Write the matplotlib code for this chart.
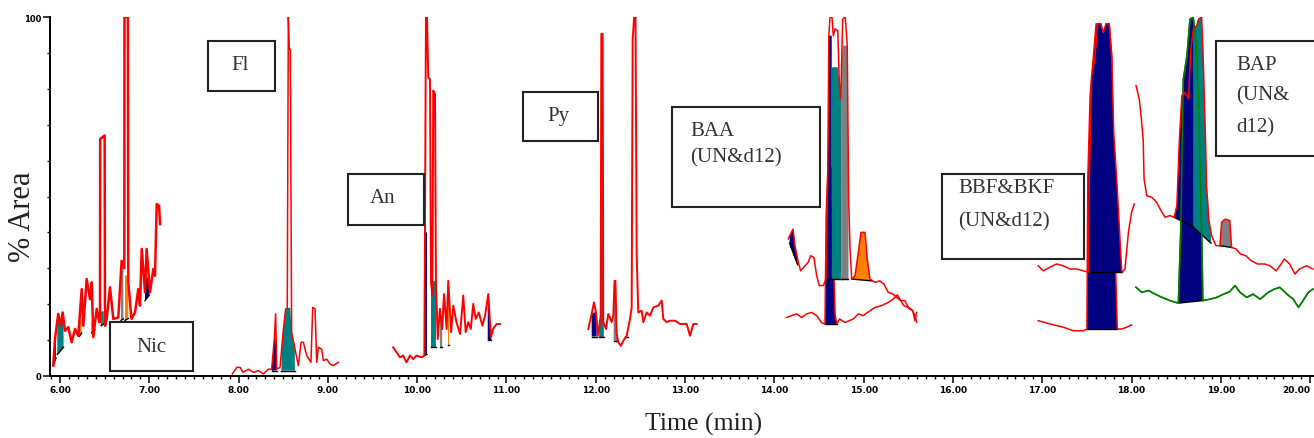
import numpy as np
import matplotlib.pyplot as plt
from matplotlib.patches import Rectangle
from matplotlib.ticker import MultipleLocator

plt.rcParams['font.family'] = 'Liberation Serif'

# =========================
# Chromatogram traces: time (min) / % area
# =========================
NIC_T = [5.925, 5.944, 5.98, 6.01, 6.03, 6.056, 6.093, 6.131, 6.168, 6.205, 6.243, 6.261, 6.299,
         6.336, 6.355, 6.373, 6.411, 6.44, 6.448, 6.45, 6.50, 6.504, 6.523, 6.56, 6.597, 6.653,
         6.69, 6.72, 6.722, 6.76, 6.765, 6.80, 6.84, 6.877, 6.896, 6.915, 6.952, 6.97, 7.008,
         7.045, 7.064, 7.083, 7.11, 7.12]
NIC_Y = [2.9, 10.3, 17.3, 14.0, 17.7, 12.6, 13.6, 9.4, 13.1, 11.2, 24.2, 14.0, 27.0,
         21.4, 26.1, 10.8, 18.7, 15.0, 15.0, 66.0, 67.0, 14.0, 15.9, 24.7, 15.9, 16.3,
         32.1, 30.0, 100, 100, 26.0, 15.9, 17.7, 24.2, 19.6, 35.4, 23.3, 35.4, 23.3,
         29.8, 27.9, 47.9, 47.4, 42.3]

FL_T = [7.93, 7.98, 8.016, 8.05, 8.11, 8.165, 8.22, 8.277, 8.333, 8.37, 8.40, 8.415, 8.427,
        8.464, 8.50, 8.527, 8.545, 8.557, 8.568, 8.579, 8.594, 8.632, 8.669, 8.70, 8.725,
        8.763, 8.81, 8.83, 8.856, 8.875, 8.893, 8.93, 8.95, 8.987, 9.024, 9.06, 9.117]
FL_Y = [0.6, 2.4, 2.4, 1.0, 1.9, 1.0, 1.5, 0.6, 1.9, 1.9, 10.3, 17.3, 1.9,
        2.4, 12.6, 18.7, 18.7, 100, 91, 91, 12.2, 7.5, 2.9, 9.4, 9.4,
        5.7, 3.8, 19.1, 18.7, 3.8, 8.0, 7.5, 4.3, 4.7, 3.3, 2.9, 3.8]

AN_T = [9.73, 9.77, 9.807, 9.844, 9.88, 9.92, 9.956, 9.994, 10.05, 10.08, 10.087, 10.098,
        10.11, 10.124, 10.143, 10.155, 10.17, 10.18, 10.2, 10.21, 10.23, 10.255, 10.28, 10.30,
        10.33, 10.348, 10.38, 10.404, 10.44, 10.48, 10.516, 10.543, 10.572, 10.60, 10.628,
        10.655, 10.69, 10.73, 10.76, 10.796, 10.826, 10.85, 10.89, 10.927]
AN_Y = [8.0, 6.6, 5.2, 5.7, 3.8, 5.7, 4.7, 5.7, 5.2, 5.7, 40.0, 100,
        100, 83.2, 82.7, 26.1, 22.4, 79.5, 78.6, 26.5, 10.3, 18.7, 13.1, 22.8,
        13.1, 26.5, 12.2, 19.6, 15.0, 11.7, 22.4, 12.2, 15.0, 13.1, 20.1,
        15.9, 17.7, 14.0, 16.8, 22.8, 10.8, 13.1, 14.5, 14.5]

PY_T = [11.916, 11.954, 11.98, 12.002, 12.028, 12.055, 12.062, 12.077, 12.084, 12.114, 12.14,
        12.178, 12.196, 12.21, 12.22, 12.234, 12.252, 12.28, 12.308, 12.346, 12.383, 12.402,
        12.413, 12.43, 12.445, 12.458, 12.476, 12.514, 12.532, 12.57, 12.607, 12.644, 12.70,
        12.738, 12.756, 12.794, 12.83, 12.887, 12.943, 13.018, 13.055, 13.092, 13.13]
PY_Y = [13.1, 17.3, 20.5, 17.7, 11.2, 16.8, 95.3, 95.3, 15.0, 13.1, 17.3,
        15.0, 16.8, 26.5, 26.5, 11.7, 9.4, 8.4, 9.8, 11.2, 15.9, 19.1,
        93.9, 100, 100, 34.0, 17.7, 18.2, 15.0, 17.7, 16.8, 19.1, 19.6,
        21.0, 15.9, 15.0, 15.4, 15.4, 14.5, 14.5, 11.2, 14.5, 14.5]

BAA_UP_T = [14.156, 14.19, 14.21, 14.23, 14.268, 14.294, 14.343, 14.38, 14.406, 14.443, 14.474,
            14.503, 14.548, 14.578, 14.597, 14.61, 14.623, 14.645, 14.66, 14.68, 14.71, 14.727,
            14.743, 14.765, 14.794, 14.816, 14.832, 14.847, 14.866, 14.903, 14.94, 14.97, 15.015,
            15.04, 15.07, 15.127, 15.18, 15.227, 15.275, 15.33, 15.37, 15.414, 15.46, 15.51,
            15.55, 15.574, 15.593]
BAA_UP_Y = [38.2, 40.0, 40.9, 36.3, 31.7, 29.3, 30.7, 31.7, 33.5, 33.0, 27.9,
            25.2, 25.2, 27.0, 54.9, 94.8, 100, 100, 94.8, 96.7, 96.2, 81.8,
            77.2, 99.4, 100, 92.0, 49.3, 35.4, 27.0, 27.9, 34.4, 40.0, 40.0,
            32.6, 27.0, 26.1, 26.5, 25.6, 23.3, 22.8, 21.9, 21.0, 21.0, 18.7,
            18.2, 15.4, 17.7]

BAA_LO_T = [14.137, 14.19, 14.25, 14.305, 14.36, 14.418, 14.474, 14.53, 14.567, 14.58, 14.60,
            14.64, 14.665, 14.68, 14.70, 14.73, 14.79, 14.885, 14.94, 14.995, 15.07, 15.127,
            15.2, 15.275, 15.33, 15.376, 15.414, 15.45, 15.5, 15.537, 15.574, 15.593]
BAA_LO_Y = [16.3, 16.8, 17.3, 16.3, 17.3, 17.7, 16.8, 14.8, 14.5, 45.0, 58.0,
            58.0, 30.0, 17.0, 14.5, 15.9, 14.9, 15.9, 17.3, 16.8, 18.2, 19.1,
            19.6, 20.5, 21.4, 22.6, 21.0, 19.6, 19.1, 18.5, 16.8, 15.0]

BBF_UP_T = [16.955, 17.011, 17.086, 17.16, 17.235, 17.31, 17.385, 17.46, 17.515, 17.526, 17.553,
            17.59, 17.62, 17.657, 17.683, 17.714, 17.75, 17.779, 17.80, 17.84, 17.87, 17.89,
            17.926, 17.965, 18.0, 18.03]
BBF_UP_Y = [30.7, 29.3, 30.3, 31.2, 30.7, 29.8, 29.8, 29.3, 28.9, 54.9, 83.6,
            88.7, 98.1, 98.1, 95.7, 98.1, 98.1, 88.3, 67.9, 52.1, 38.2, 28.9,
            29.8, 40.0, 45.6, 47.9]

BBF_LO_T = [16.955, 17.086, 17.235, 17.347, 17.46, 17.5, 17.51, 17.536, 17.573, 17.603, 17.655,
            17.683, 17.714, 17.75, 17.779, 17.79, 17.81, 17.84, 17.89, 17.947, 18.0]
BBF_LO_Y = [15.4, 14.5, 13.6, 12.6, 12.6, 13.1, 54.9, 78.1, 89.2, 98.1, 98.1,
            89.2, 98.1, 98.1, 89.2, 64.2, 40.0, 13.1, 13.1, 13.6, 14.2]

BAP_RED_T = [18.05, 18.086, 18.11, 18.13, 18.14, 18.17, 18.226, 18.28, 18.34, 18.376, 18.43,
             18.477, 18.507, 18.536, 18.563, 18.6, 18.637, 18.664, 18.693, 18.73, 18.75, 18.785,
             18.805, 18.824, 18.84, 18.867, 18.897, 18.945, 18.99, 19.008, 19.046, 19.1, 19.12,
             19.17, 19.22, 19.28, 19.34, 19.41, 19.49, 19.55, 19.62, 19.675, 19.71, 19.77,
             19.83, 19.88, 19.96, 20.03]
BAP_RED_Y = [80.9, 77.2, 71.6, 66.0, 54.9, 50.2, 49.8, 48.4, 45.6, 44.2, 44.7,
             44.2, 47.4, 66.0, 78.1, 79.0, 77.2, 91.1, 96.7, 97.6, 99.4, 100,
             86.4, 69.7, 53.0, 43.3, 39.1, 36.3, 36.3, 42.8, 43.7, 43.3, 35.8,
             35.4, 34.0, 33.5, 32.1, 31.2, 31.2, 30.7, 29.3, 31.2, 32.6, 31.2,
             28.4, 29.8, 30.7, 29.8]

BAP_GRN_T = [18.05, 18.115, 18.19, 18.264, 18.34, 18.43, 18.524, 18.55, 18.58, 18.62, 18.654,
             18.69, 18.72, 18.75, 18.768, 18.787, 18.798, 18.88, 18.955, 19.03, 19.1, 19.158,
             19.214, 19.29, 19.36, 19.44, 19.53, 19.6, 19.66, 19.74, 19.81, 19.87, 19.92,
             19.98, 20.03]
BAP_GRN_Y = [24.7, 23.3, 23.8, 22.8, 21.9, 21.0, 20.3, 40.0, 82.7, 89.2, 99.4,
             100, 93.9, 77.2, 56.7, 38.2, 21.0, 21.4, 21.9, 22.8, 23.5, 25.2,
             23.3, 21.9, 22.8, 21.4, 23.3, 24.2, 24.7, 22.8, 21.4, 19.1, 21.0,
             23.3, 24.2]

# integrated peaks: (t start, t end, baseline start, baseline end, fill top)
NIC_PEAKS = [(5.925, 5.955, 3.0, 5.0, 10.3), (5.97, 6.04, 6.0, 8.0, 16.0),
             (6.216, 6.243, 11.0, 12.0, 16.0), (6.355, 6.39, 12.0, 13.0, 15.5),
             (6.46, 6.49, 14.0, 14.5, 18.0), (6.683, 6.71, 15.5, 15.9, 31.0),
             (6.728, 6.765, 15.5, 16.0, 28.0), (6.952, 7.0, 21.0, 22.5, 28.0)]
FL_PEAKS = [(8.37, 8.427, 1.5, 1.5, 11.0), (8.48, 8.63, 1.5, 1.5, 19.0)]
AN_PEAKS = [(10.08, 10.11, 5.7, 6.0, 40.0), (10.155, 10.21, 8.0, 8.0, 26.5),
            (10.255, 10.28, 8.0, 8.0, 18.7), (10.34, 10.36, 8.5, 8.5, 20.0),
            (10.79, 10.83, 10.0, 10.0, 22.8)]
PY_PEAKS = [(11.954, 12.01, 11.0, 11.0, 17.7), (12.04, 12.09, 10.8, 10.8, 51.0),
            (12.2, 12.24, 9.8, 9.8, 26.5), (12.33, 12.36, 10.8, 10.8, 14.0)]
BAA_UP_PEAKS = [(14.17, 14.26, 37.0, 31.0, 41.0), (14.597, 14.642, 27.0, 27.0, 94.8),
                (14.642, 14.753, 27.0, 27.0, 86.0), (14.753, 14.83, 27.0, 27.0, 92.0),
                (14.866, 15.09, 27.0, 26.5, 100)]
BAA_LO_PEAKS = [(14.567, 14.70, 14.5, 14.5, 60.0)]
BBF_UP_PEAKS = [(17.515, 17.89, 28.9, 28.9, 100)]
BBF_LO_PEAKS = [(17.5, 17.84, 13.1, 13.1, 100)]
BAP_RED_PEAKS = [(18.477, 18.69, 44.2, 41.5, 100), (18.69, 18.89, 41.5, 37.0, 100),
                 (18.99, 19.12, 36.3, 35.8, 100)]
BAP_GRN_PEAKS = [(18.524, 18.798, 20.3, 21.0, 100)]

X_TICKS = [6.0, 7.0, 8.0, 9.0, 10.0, 11.0, 12.0, 13.0, 14.0, 15.0, 16.0, 17.0, 18.0, 19.0, 20.0]
X_TICK_LABELS = ['6.00', '7.00', '8.00', '9.00', '10.00', '11.00', '12.00', '13.00',
                 '14.00', '15.00', '16.00', '17.00', '18.00', '19.00', '20.00']
Y_TICKS = [0, 100]
Y_TICK_LABELS = ['0', '100']

# compound labels: box in pixels (x0, y0, x1, y1) and text lines (text, x, y, align)
LABELS = [
    ((110, 323, 193, 372), [('Nic', 151, 348, 'center')]),
    ((208, 42, 275, 92), [('Fl', 240, 66, 'center')]),
    ((348, 175, 424, 226), [('An', 383, 199, 'center')]),
    ((523, 93, 598, 142), [('Py', 558, 117, 'center')]),
    ((672, 108, 820, 208), [('BAA', 690, 131, 'left'), ('(UN&d12)', 690, 158, 'left')]),
    ((942, 175, 1084, 260), [('BBF&BKF', 958, 189, 'left'), ('(UN&d12)', 958, 222, 'left')]),
    ((1216, 42, 1322, 157), [('BAP', 1236, 65, 'left'), ('(UN&', 1236, 96, 'left'),
                             ('d12)', 1236, 128, 'left')]),
]

RED = '#ff0000'
GREEN = '#008000'
NAVY = '#000080'
TEAL = '#008080'
GRAY = '#808080'
ORANGE = '#ff8000'

W, H = 1314, 439


def draw_trace(ax, t, y, colour, peaks, peak_colours, z=2, lw=1.1):
    t = np.asarray(t, dtype=float)
    y = np.asarray(y, dtype=float)
    for (t0, t1, b0, b1, top), fc in zip(peaks, peak_colours):
        inside = (t > t0) & (t < t1)
        xs = np.concatenate([[t0], t[inside], [t1]])
        ys = np.concatenate([[np.interp(t0, t, y)], y[inside], [np.interp(t1, t, y)]])
        ys = np.minimum(ys, top)
        ax.fill(np.concatenate([xs, [t1, t0]]), np.concatenate([ys, [b1, b0]]),
                color=fc, lw=0, zorder=z)
        ax.plot([t0, t1], [b0, b1], color='black', lw=1.0, zorder=z + 0.1)
    ax.plot(t, y, color=colour, lw=lw, zorder=z + 0.5)


def main():
    fig = plt.figure(figsize=(W / 100, H / 100), dpi=100)
    ax = fig.add_axes([50 / W, 62 / H, 1264 / W, 359 / H])

    draw_trace(ax, NIC_T, NIC_Y, RED, NIC_PEAKS,
               [NAVY, TEAL, ORANGE, NAVY, TEAL, GRAY, ORANGE, NAVY], lw=1.8)
    draw_trace(ax, FL_T, FL_Y, RED, FL_PEAKS, [NAVY, TEAL])
    draw_trace(ax, AN_T, AN_Y, RED, AN_PEAKS, [NAVY, TEAL, GRAY, ORANGE, NAVY], lw=1.4)
    draw_trace(ax, PY_T, PY_Y, RED, PY_PEAKS, [NAVY, TEAL, GRAY, ORANGE], lw=1.4)
    draw_trace(ax, BAA_LO_T, BAA_LO_Y, RED, BAA_LO_PEAKS, [NAVY], z=1)
    draw_trace(ax, BAA_UP_T, BAA_UP_Y, RED, BAA_UP_PEAKS, [NAVY, NAVY, TEAL, GRAY, ORANGE], z=2)
    draw_trace(ax, BBF_LO_T, BBF_LO_Y, RED, BBF_LO_PEAKS, [NAVY], z=1)
    draw_trace(ax, BBF_UP_T, BBF_UP_Y, RED, BBF_UP_PEAKS, [NAVY], z=2)
    draw_trace(ax, BAP_GRN_T, BAP_GRN_Y, GREEN, BAP_GRN_PEAKS, [NAVY], z=1)
    draw_trace(ax, BAP_RED_T, BAP_RED_Y, RED, BAP_RED_PEAKS, [NAVY, TEAL, GRAY], z=2)
    # green outline stays visible over the red peak fills
    ax.plot(BAP_GRN_T, BAP_GRN_Y, color=GREEN, lw=1.1, zorder=2.4)

    ax.set_xlim(5.888, 20.043)
    ax.set_ylim(0, 100)

    ax.spines['top'].set_visible(False)
    ax.spines['right'].set_visible(False)
    ax.spines['left'].set_linewidth(1.4)
    ax.spines['bottom'].set_linewidth(1.4)

    ax.set_xticks(X_TICKS)
    ax.set_xticklabels(X_TICK_LABELS, fontsize=6.5, fontweight='bold', family='DejaVu Sans')
    # last label sits on the right edge: keep it inside the picture
    ax.get_xticklabels()[-1].set_horizontalalignment('right')
    ax.xaxis.set_minor_locator(MultipleLocator(0.1))
    ax.set_yticks(Y_TICKS)
    ax.set_yticklabels(Y_TICK_LABELS, fontsize=6, fontweight='bold', family='DejaVu Sans')
    ax.yaxis.set_minor_locator(MultipleLocator(10))
    ax.tick_params(axis='both', which='major', direction='out', length=5, width=1.1, pad=1.5)
    ax.tick_params(axis='both', which='minor', direction='out', length=2.5, width=1.0)

    fig.text(23 / W, 1 - 217 / H, '% Area', rotation=90, fontsize=22,
             ha='center', va='center', color='#222222')
    fig.text(704 / W, 1 - 424 / H, 'Time (min)', fontsize=18.5,
             ha='center', va='center', color='#222222')

    for (x0, y0, x1, y1), lines in LABELS:
        fig.add_artist(Rectangle((x0 / W, 1 - y1 / H), (x1 - x0) / W, (y1 - y0) / H,
                                 transform=fig.transFigure, facecolor='white',
                                 edgecolor='#222222', lw=1.5, zorder=5))
        for txt, tx, ty, ha in lines:
            fig.text(tx / W, 1 - ty / H, txt, fontsize=15, ha=ha, va='center',
                     color='#333333', zorder=6)

    fig.savefig('out.png', dpi=100)


if __name__ == "__main__":
    main()
